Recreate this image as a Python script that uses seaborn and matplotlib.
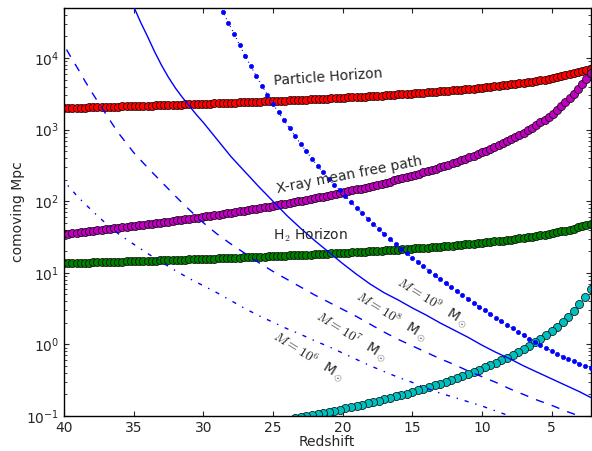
import numpy as np
import matplotlib
matplotlib.use("Agg")
import matplotlib.pyplot as plt
import seaborn as sns

# redshift grids
z_dense = np.round(np.arange(40, 2.1, -0.3), 1)      # horizons, x-ray mfp
z_sparse = np.round(np.arange(2.2, 29.1, 0.4), 1)    # M=1e9 dots, cyan curve
z_solid = [2.2] + list(range(3, 28)) + [28, 28.5, 29, 29.5, 30, 30.5, 31, 31.5,
                                         32, 32.5, 33, 33.5, 34, 34.5, 35, 35.5]
z_dashed = [2.2] + list(range(3, 36)) + [36, 36.5, 37, 37.5, 38, 38.5, 39, 39.5, 40]
z_dashdot = list(range(7, 41))

particle_horizon = [
    1994, 2002, 2009, 2017, 2024, 2032, 2040, 2047, 2055, 2063,
    2072, 2080, 2088, 2097, 2105, 2114, 2122, 2131, 2140, 2149,
    2159, 2168, 2177, 2187, 2197, 2206, 2216, 2226, 2237, 2247,
    2257, 2268, 2279, 2290, 2301, 2312, 2324, 2335, 2347, 2359,
    2371, 2384, 2396, 2409, 2422, 2435, 2449, 2462, 2476, 2490,
    2504, 2519, 2534, 2549, 2564, 2580, 2596, 2612, 2629, 2646,
    2663, 2680, 2698, 2716, 2735, 2754, 2774, 2793, 2814, 2834,
    2855, 2877, 2899, 2922, 2945, 2969, 2993, 3018, 3044, 3070,
    3097, 3125, 3153, 3183, 3213, 3244, 3275, 3308, 3342, 3377,
    3413, 3450, 3488, 3528, 3569, 3612, 3656, 3702, 3749, 3799,
    3850, 3904, 3960, 4018, 4079, 4143, 4210, 4281, 4355, 4432,
    4515, 4602, 4694, 4792, 4897, 5009, 5129, 5257, 5396, 5547,
    5711, 5890, 6088, 6307, 6551, 6826, 7139]

xray_mfp = [
    34.68, 35.20, 35.72, 36.26, 36.81, 37.37, 37.94, 38.53, 39.13, 39.74,
    40.37, 41.02, 41.68, 42.36, 43.05, 43.76, 44.49, 45.24, 46.00, 46.79,
    47.59, 48.42, 49.27, 50.14, 51.03, 51.95, 52.89, 53.86, 54.86, 55.88,
    56.93, 58.02, 59.13, 60.28, 61.46, 62.67, 63.92, 65.21, 66.54, 67.91,
    69.32, 70.78, 72.28, 73.83, 75.44, 77.09, 78.80, 80.57, 82.39, 84.29,
    86.24, 88.27, 90.36, 92.54, 94.79, 97.13, 99.55, 102.1, 104.7, 107.4,
    110.2, 113.1, 116.2, 119.4, 122.7, 126.1, 129.7, 133.5, 137.4, 141.5,
    145.8, 150.2, 154.9, 159.8, 165.0, 170.3, 176.0, 182.0, 188.2, 194.8,
    201.7, 209.0, 216.8, 224.9, 233.5, 242.7, 252.3, 262.6, 273.5, 285.1,
    297.4, 310.6, 324.7, 339.7, 355.8, 373.1, 391.7, 411.7, 433.3, 456.6,
    481.8, 509.2, 539.0, 571.5, 607.0, 646.0, 688.8, 736.0, 788.3, 846.3,
    910.9, 983.3, 1065, 1157, 1261, 1380, 1517, 1675, 1880, 2120,
    2400, 2750, 3160, 3680, 4320, 5150, 6250]

h2_horizon = [
    13.59, 13.64, 13.69, 13.74, 13.79, 13.84, 13.90, 13.95, 14.00, 14.06,
    14.11, 14.17, 14.23, 14.28, 14.34, 14.40, 14.46, 14.52, 14.58, 14.64,
    14.71, 14.77, 14.83, 14.90, 14.96, 15.03, 15.10, 15.17, 15.24, 15.31,
    15.38, 15.45, 15.53, 15.60, 15.68, 15.75, 15.83, 15.91, 15.99, 16.07,
    16.16, 16.24, 16.33, 16.41, 16.50, 16.59, 16.68, 16.77, 16.87, 16.96,
    17.06, 17.16, 17.26, 17.37, 17.47, 17.58, 17.69, 17.80, 17.91, 18.02,
    18.14, 18.26, 18.38, 18.51, 18.63, 18.76, 18.90, 19.03, 19.17, 19.31,
    19.45, 19.60, 19.75, 19.91, 20.07, 20.23, 20.39, 20.56, 20.74, 20.92,
    21.10, 21.29, 21.48, 21.68, 21.89, 22.10, 22.31, 22.54, 22.77, 23.01,
    23.25, 23.50, 23.77, 24.04, 24.32, 24.61, 24.91, 25.22, 25.54, 25.88,
    26.23, 26.60, 26.98, 27.38, 27.79, 28.23, 28.68, 29.16, 29.67, 30.20,
    30.76, 31.35, 31.98, 32.65, 33.36, 34.12, 34.94, 35.82, 36.76, 37.79,
    38.91, 40.13, 41.48, 42.97, 44.63, 46.50, 48.63]

cyan_curve = [
    5.9, 4.55, 3.62, 2.95, 2.45, 2.05, 1.77, 1.542, 1.355, 1.200,
    1.071, 0.961, 0.867, 0.787, 0.717, 0.656, 0.602, 0.555, 0.513, 0.476,
    0.442, 0.412, 0.385, 0.361, 0.339, 0.319, 0.300, 0.283, 0.268, 0.253,
    0.240, 0.228, 0.217, 0.206, 0.197, 0.188, 0.179, 0.171, 0.164, 0.157,
    0.151, 0.144, 0.139, 0.133, 0.128, 0.123, 0.119, 0.115, 0.111, 0.107,
    0.103, 0.0996, 0.0964, 0.0932]

m9 = [
    0.468, 0.501, 0.537, 0.578, 0.622, 0.676, 0.741, 0.813, 0.891, 0.977,
    1.081, 1.208, 1.349, 1.507, 1.683, 1.879, 2.099, 2.344, 2.642, 2.979,
    3.373, 3.837, 4.365, 4.920, 5.546, 6.281, 7.145, 8.128, 9.333, 10.72,
    12.30, 14.13, 16.22, 18.79, 21.78, 25.35, 29.65, 34.67, 40.93, 48.31,
    57.28, 68.23, 81.28, 97.72, 117.5, 141.3, 169.8, 204.2, 252.3, 311.9,
    390.8, 496.6, 631.0, 809.1, 1038, 1343, 1754, 2291, 3076, 4130,
    5623, 7762, 10715, 15346, 21979, 31333, 44463, 63096]

m8 = [
    0.182, 0.219, 0.269, 0.331, 0.407, 0.501, 0.631, 0.776, 0.977, 1.259,
    1.585, 1.995, 2.570, 3.236, 4.169, 5.248, 6.918, 9.55, 13.49, 19.50,
    28.18, 41.69, 63.10, 100.0, 158.5, 257.0,
    416.9, 549.5, 724.4, 955.0, 1259, 1622, 2138, 2818,
    3802, 5370, 7943, 12303, 19953, 31623, 52481, 87096]

m7 = [
    0.0871, 0.100, 0.1175, 0.1413, 0.1660, 0.1995, 0.2399, 0.2951, 0.3548, 0.4266,
    0.5248, 0.6310, 0.7762, 0.9550, 1.175, 1.479, 1.905, 2.455, 3.090, 3.890,
    4.898, 6.310, 8.128, 10.47, 13.80, 18.62, 25.12, 34.67, 50.12, 75.86,
    117.5, 186.2, 295.1, 478.6,
    851.1, 1175, 1660, 2344, 3311, 4786, 7079, 10233, 15136]

m6 = [
    0.0851, 0.100, 0.1175, 0.1380, 0.1585, 0.1820, 0.2089, 0.2455, 0.2951, 0.3467,
    0.4169, 0.5012, 0.6166, 0.7586, 0.9333, 1.122, 1.380, 1.660, 2.042, 2.512,
    3.162, 4.074, 5.248, 6.607, 8.318, 10.72, 14.13, 18.62, 25.12, 33.88,
    48.98, 74.13, 114.8, 190.5]

sns.set_style("ticks")
plt.rcParams['font.family'] = ['DejaVu Sans']
plt.rcParams['font.size'] = 10
plt.rcParams['mathtext.fontset'] = 'cm'

fig = plt.figure(figsize=(5.92, 4.51), dpi=100)
ax = fig.add_axes([0.1081, 0.0776, 0.8894, 0.9047])

# marker curves
for yvals, col in [(particle_horizon, 'r'), (xray_mfp, 'm'), (h2_horizon, 'g')]:
    sns.scatterplot(x=z_dense, y=yvals, color=col, s=34, edgecolor='k',
                    linewidth=0.5, ax=ax, zorder=2)
sns.scatterplot(x=z_sparse[:len(cyan_curve)], y=cyan_curve, color='c', s=34,
                edgecolor='k', linewidth=0.5, ax=ax, zorder=2)

# halo mass curves
sns.lineplot(x=z_sparse, y=m9, color='b', marker='.', markersize=6, mec='b',
             mew=0.5, linestyle=(0, (1, 3)), lw=0.8, ax=ax, zorder=3)
sns.lineplot(x=z_solid, y=m8, color='b', lw=1, ax=ax, zorder=3)
sns.lineplot(x=z_dashed, y=m7, color='b', lw=1, linestyle=(0, (6, 6)), ax=ax, zorder=3)
sns.lineplot(x=z_dashdot, y=m6, color='b', lw=1, linestyle=(0, (3, 5, 1, 5)), ax=ax, zorder=3)

ax.set_yscale('log')
ax.set_xlim(40, 2.2)
ax.set_ylim(0.1, 5e4)
ax.set_xticks([40, 35, 30, 25, 20, 15, 10, 5])
ax.tick_params(which='both', direction='in', top=True, right=True, labelsize=10)
ax.tick_params(which='major', length=3.5)
ax.tick_params(which='minor', length=2)
for sp in ax.spines.values():
    sp.set_linewidth(1)
    sp.set_color('k')

ax.set_xlabel("Redshift", fontsize=10, labelpad=0)
ax.set_ylabel("comoving Mpc", fontsize=10, labelpad=1)

ax.text(21.03, 5430, "Particle Horizon", rotation=4, ha='center', va='center', fontsize=10)
ax.text(19.53, 232, "X-ray mean free path", rotation=11, ha='center', va='center', fontsize=10)
ax.text(22.33, 33.7, r"H$_2$ Horizon", ha='center', va='center', fontsize=10)
ax.text(13.56, 3.78, r"$M=10^9$  M$_\odot$", rotation=-32, ha='center', va='center', fontsize=10)
ax.text(16.51, 2.42, r"$M=10^8$  M$_\odot$", rotation=-32, ha='center', va='center', fontsize=10)
ax.text(19.38, 1.27, r"$M=10^7$  M$_\odot$", rotation=-32, ha='center', va='center', fontsize=10)
ax.text(22.47, 0.667, r"$M=10^6$  M$_\odot$", rotation=-32, ha='center', va='center', fontsize=10)

fig.savefig("out.png", dpi=100)
